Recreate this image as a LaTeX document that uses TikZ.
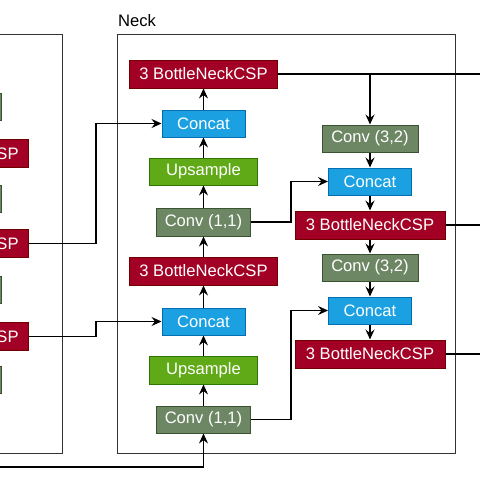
\documentclass[tikz,border=0pt]{standalone}
\usepackage{fontspec}
\setmainfont{Liberation Sans}
\usetikzlibrary{arrows.meta,calc}
\definecolor{cspfill}{HTML}{A20025}\definecolor{cspdraw}{HTML}{6F0000}
\definecolor{convfill}{HTML}{6D8764}\definecolor{convdraw}{HTML}{3A5431}
\definecolor{catfill}{HTML}{1BA1E2}\definecolor{catdraw}{HTML}{006EAF}
\definecolor{upfill}{HTML}{60A917}\definecolor{updraw}{HTML}{2D7600}
\definecolor{frame}{HTML}{333333}
\begin{document}
\begin{tikzpicture}[x=1pt,y=-1pt,
  blk/.style={rectangle,inner sep=0pt,text=white,font=\fontsize{16.6}{16.6}\selectfont,line width=1pt},
  csp/.style={blk,fill=cspfill,draw=cspdraw,minimum width=148pt,minimum height=28pt},
  conv/.style={blk,fill=convfill,draw=convdraw,minimum width=94pt,minimum height=27pt},
  cat/.style={blk,fill=catfill,draw=catdraw,minimum width=83pt,minimum height=27pt},
  ups/.style={blk,fill=upfill,draw=updraw,minimum width=108pt,minimum height=27pt},
  arr/.style={line width=1.2pt,-{Stealth[length=10pt,width=9pt,inset=3.5pt]}},
  ln/.style={line width=1.2pt},
  frm/.style={draw=frame,line width=1pt}]
\useasboundingbox (0,0) rectangle (480,480);
\clip (0,0) rectangle (480,480);
% frames
\draw[frm] (-20,34) rectangle (62,453);
\draw[frm] (117,34) rectangle (455,453);
\node[anchor=west,font=\fontsize{16.6}{16.6}\selectfont,text=black,inner sep=0pt] (necklbl) at (118,21) {Neck};
% backbone (partially visible)
\node[conv,minimum width=96pt,anchor=east] (bbg1) at (2,107) {Conv (3,2)};
\node[csp,anchor=east] (bbr1) at (29,153.5) {3 BottleNeckCSP};
\node[conv,minimum width=96pt,anchor=east] (bbg2) at (2,198.5) {Conv (3,2)};
\node[csp,anchor=east] (bbr2) at (29,243.5) {3 BottleNeckCSP};
\node[conv,minimum width=96pt,anchor=east] (bbg3) at (2,290) {Conv (3,2)};
\node[csp,anchor=east] (bbr3) at (29,336.5) {3 BottleNeckCSP};
\node[conv,minimum width=96pt,anchor=east] (bbg4) at (2,380) {Conv (3,2)};
% neck main column
\node[csp] (csp1) at (203.5,74) {3 BottleNeckCSP};
\node[cat] (cat1) at (203.5,123.5) {Concat};
\node[ups] (up1) at (203.5,171.5) {Upsample};
\node[conv,minimum height=28pt] (conv1) at (203.5,222) {Conv (1,1)};
\node[csp] (csp2) at (203.5,271) {3 BottleNeckCSP};
\node[cat] (cat2) at (203.5,321.5) {Concat};
\node[ups,minimum height=28pt] (up2) at (203.5,370) {Upsample};
\node[conv] (conv2) at (203.5,419.5) {Conv (1,1)};
% right column
\node[conv,minimum width=96pt] (conv3) at (370,138.5) {Conv (3,2)};
\node[cat] (cat3) at (370,181.5) {Concat};
\node[csp,minimum width=150pt] (csp3) at (370,225) {3 BottleNeckCSP};
\node[conv,minimum width=96pt] (conv4) at (370,267.5) {Conv (3,2)};
\node[cat] (cat4) at (370,310.5) {Concat};
\node[csp,minimum width=150pt] (csp4) at (370,354) {3 BottleNeckCSP};
% off-picture ends
\coordinate (out1) at (490,74);
\coordinate (out2) at (490,225);
\coordinate (out3) at (490,354);
\coordinate (sppf) at (-20,467);
% main column arrows (upward)
\draw[arr] (sppf) -| (conv2.south);
\draw[arr] (conv2.north) -- (up2.south);
\draw[arr] (up2.north) -- (cat2.south);
\draw[arr] (cat2.north) -- (csp2.south);
\draw[arr] (csp2.north) -- (conv1.south);
\draw[arr] (conv1.north) -- (up1.south);
\draw[arr] (up1.north) -- (cat1.south);
\draw[arr] (cat1.north) -- (csp1.south);
% lateral links
\draw[arr] (bbr2.east) -- ++(67,0) |- (cat1.west);
\draw[arr] (bbr3.east) -- ++(67,0) |- (cat2.west);
\draw[arr] (conv1.east) -- ++(40,0) |- (cat3.west);
\draw[arr] (conv2.east) -- ++(40,0) |- (cat4.west);
% right column
\draw[ln] (csp1.east) -- (out1);
\draw[arr] (csp1.east -| conv3.north) -- (conv3.north);
\draw[arr] (conv3.south) -- (cat3.north);
\draw[arr] (cat3.south) -- (csp3.north);
\draw[arr] (csp3.south) -- (conv4.north);
\draw[arr] (conv4.south) -- (cat4.north);
\draw[arr] (cat4.south) -- (csp4.north);
\draw[ln] (csp3.east) -- (out2);
\draw[ln] (csp4.east) -- (out3);
\end{tikzpicture}
\end{document}
